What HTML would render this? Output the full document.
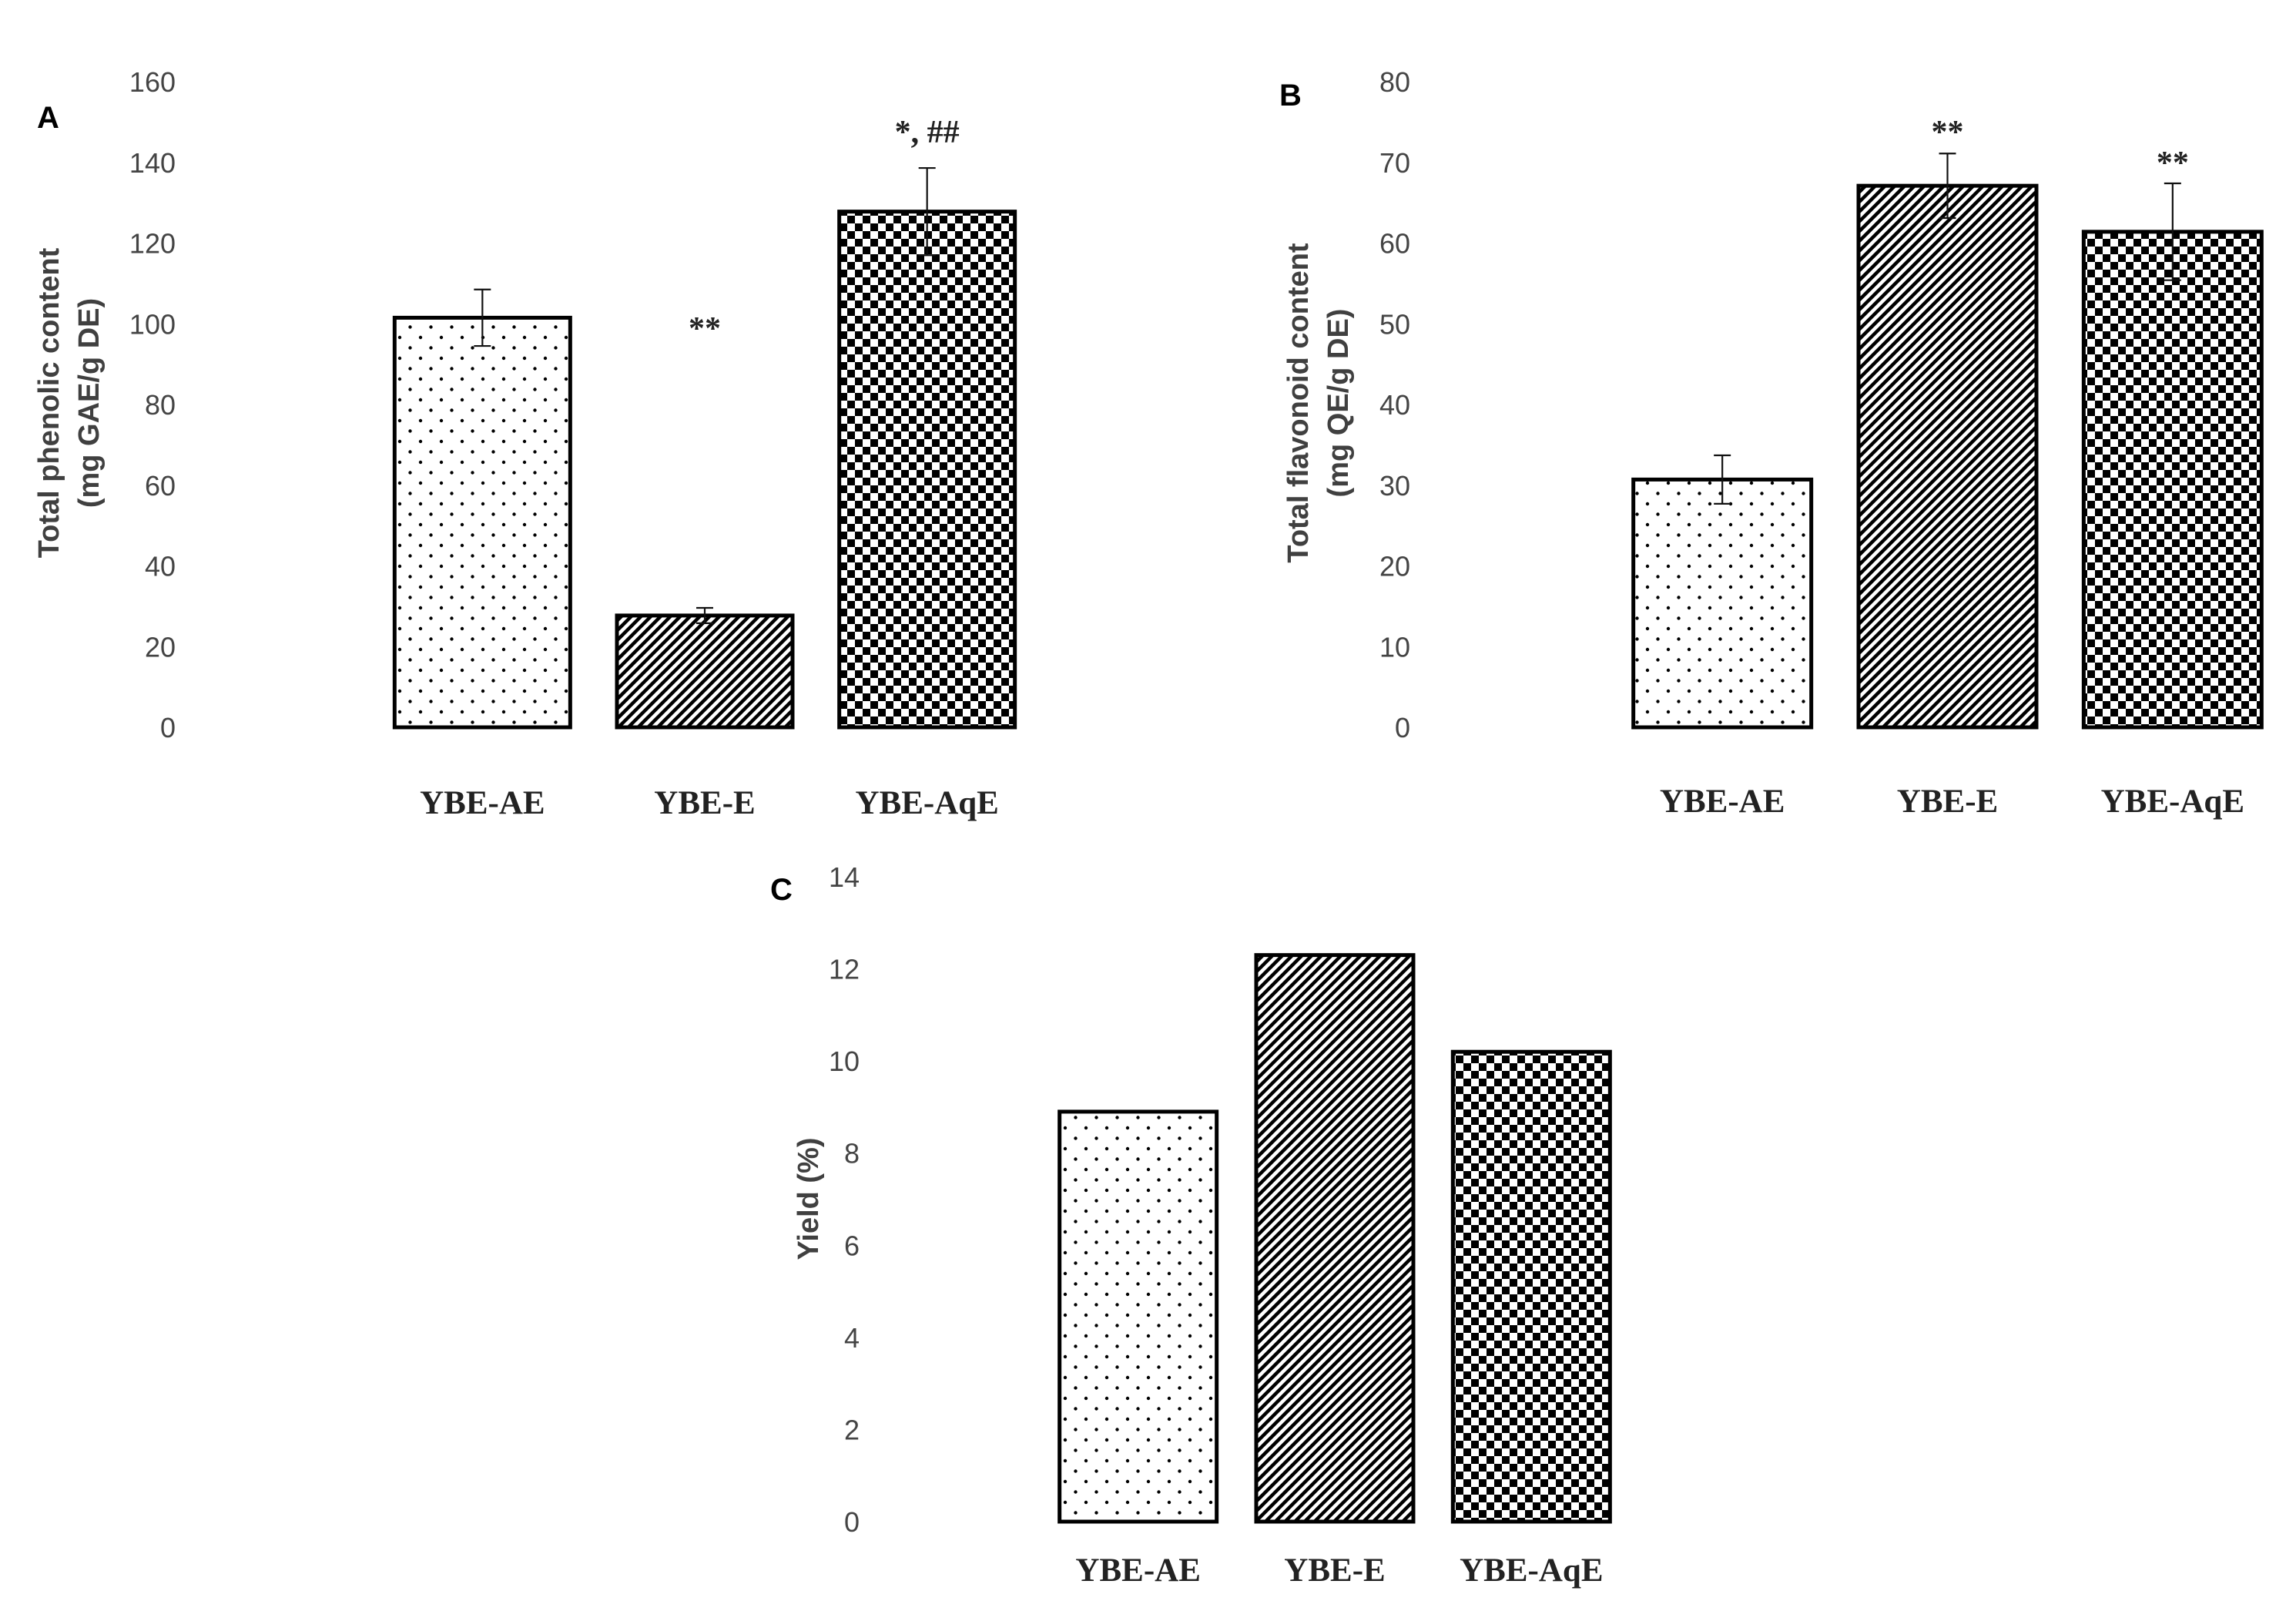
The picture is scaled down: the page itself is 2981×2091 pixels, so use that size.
<!DOCTYPE html>
<html><head><meta charset="utf-8"><style>
html,body{margin:0;padding:0;background:#fff;}
svg{display:block;}
.tick{font-family:"Liberation Sans",sans-serif;font-size:36px;fill:#444;}
.ytitle{font-family:"Liberation Sans",sans-serif;font-size:38px;font-weight:bold;fill:#404040;}
.cat{font-family:"Liberation Serif",serif;font-size:43px;font-weight:bold;fill:#222;}
.panel{font-family:"Liberation Sans",sans-serif;font-size:40px;font-weight:bold;fill:#000;}
.sig{font-family:"Liberation Serif",serif;font-size:42px;font-weight:bold;fill:#222;}
</style></head><body>
<svg id="fig" width="2981" height="2091" viewBox="0 0 2981 2091" xmlns="http://www.w3.org/2000/svg">
<defs>
<pattern id="pDots" width="27" height="27" patternUnits="userSpaceOnUse">
<rect width="27" height="27" fill="#fff"/>
<circle cx="6" cy="6" r="2.2" fill="#000"/><circle cx="19.5" cy="19.5" r="2.2" fill="#000"/>
</pattern>
<pattern id="pStripe" width="9" height="9" patternUnits="userSpaceOnUse" patternTransform="rotate(45)">
<rect width="9" height="9" fill="#fff"/><rect width="4.5" height="9" fill="#000"/>
</pattern>
<pattern id="pCheck" width="20" height="20" patternUnits="userSpaceOnUse">
<rect width="20" height="20" fill="#fff"/><rect width="10" height="10" fill="#000"/><rect x="10" y="10" width="10" height="10" fill="#000"/>
</pattern>
</defs>
<g id="root"></g>
</svg>
<script>
const categories = ["YBE-AE","YBE-E","YBE-AqE"];
const phenolValues = [101.5, 27.7, 127.8];
const phenolErrors = [7.0, 1.9, 10.8];
const phenolSig = ["", "**", "*, ##"];
const phenolTicks = [0,20,40,60,80,100,120,140,160];
const flavValues = [30.7, 67.1, 61.4];
const flavErrors = [3.0, 4.0, 6.0];
const flavSig = ["", "**", "**"];
const flavTicks = [0,10,20,30,40,50,60,70,80];
const yieldValues = [8.9, 12.3, 10.2];
const yieldTicks = [0,2,4,6,8,10,12,14];

const NS = "http://www.w3.org/2000/svg";
const root = document.getElementById("root");
const fills = ["url(#pDots)","url(#pStripe)","url(#pCheck)"];
function mk(tag, attrs, parent, text){
  const e = document.createElementNS(NS, tag);
  for (const k in attrs) e.setAttribute(k, attrs[k]);
  if (text !== undefined) e.textContent = text;
  (parent||root).appendChild(e);
  return e;
}

function panel(cfg){
  const g = mk("g", {});
  
  
  const ymax = cfg.ticks[cfg.ticks.length-1];
  const y = v => cfg.y0 - (v/ymax)*(cfg.y0 - cfg.yTop);
  cfg.ticks.forEach(t => {
    const tx = mk("text", {x:cfg.tickX, y:y(t)+13, "text-anchor":"end", class:"tick"}, g, String(t));
    
    
  });
  const lab = mk("text", {x:cfg.labX, y:cfg.labY, class:"panel"}, g, cfg.letter);
  
  
  const tg = mk("text", {transform:`translate(${cfg.titleX},${cfg.titleY}) rotate(-90)`, "text-anchor":"middle", class:"ytitle"}, g);
  
  
  cfg.title.forEach((line,i)=>{ mk("tspan",{x:0, dy: i===0 ? (cfg.title.length>1?-14:12) : 52}, tg, line); });
  const n = categories.length;
  const step = (cfg.x1 - cfg.x0)/n;
  categories.forEach((c,i)=>{
    const v = cfg.values[i];
    const bx = cfg.x0 + i*step + (step - cfg.bw)/2;
    const r = mk("rect", {x:bx, y:y(v), width:cfg.bw, height:cfg.y0-y(v), fill:fills[i], stroke:"#000", "stroke-width":5}, g);
    
    
    const cx = bx + cfg.bw/2;
    if (cfg.errors){
      const e = cfg.errors[i];
      const eg = mk("g", {stroke:"#111", "stroke-width":2.2}, g);
      
      
      mk("line",{x1:cx,x2:cx,y1:y(v+e),y2:y(v-e)},eg);
      mk("line",{x1:cx-11,x2:cx+11,y1:y(v+e),y2:y(v+e)},eg);
      mk("line",{x1:cx-11,x2:cx+11,y1:y(v-e),y2:y(v-e)},eg);
    }
    if (cfg.sig && cfg.sig[i]){
      const s = mk("text",{x:cx, y:cfg.sigY[i], "text-anchor":"middle", class:"sig"}, g, cfg.sig[i]);
      
      
    }
    const t = mk("text",{x:cx, y:cfg.catY, "text-anchor":"middle", class:"cat"}, g, c);
    
    
  });
}

panel({name:"panel-a-phenolic", letter:"A", labX:48, labY:166, y0:944, yTop:106, tickX:228,
  ticks:phenolTicks, values:phenolValues, errors:phenolErrors, sig:phenolSig, sigY:[0,440,185],
  x0:513-31, x1:1317+31, bw:228, catY:1056, titleX:90, titleY:523,
  title:["Total phenolic content","(mg GAE/g DE)"]});
panel({name:"panel-b-flavonoid", letter:"B", labX:1661, labY:137, y0:944, yTop:106, tickX:1831,
  ticks:flavTicks, values:flavValues, errors:flavErrors, sig:flavSig, sigY:[0,185,225],
  x0:2121-31, x1:2936+31, bw:231, catY:1054, titleX:1712, titleY:523,
  title:["Total flavonoid  content","(mg QE/g DE)"]});
panel({name:"panel-c-yield", letter:"C", labX:1000, labY:1168, y0:1975, yTop:1138, tickX:1116,
  ticks:yieldTicks, values:yieldValues, errors:null, sig:null,
  x0:1374-24, x1:2092+24, bw:204, catY:2052, titleX:1050, titleY:1556,
  title:["Yield (%)"]});
</script>
</body></html>
